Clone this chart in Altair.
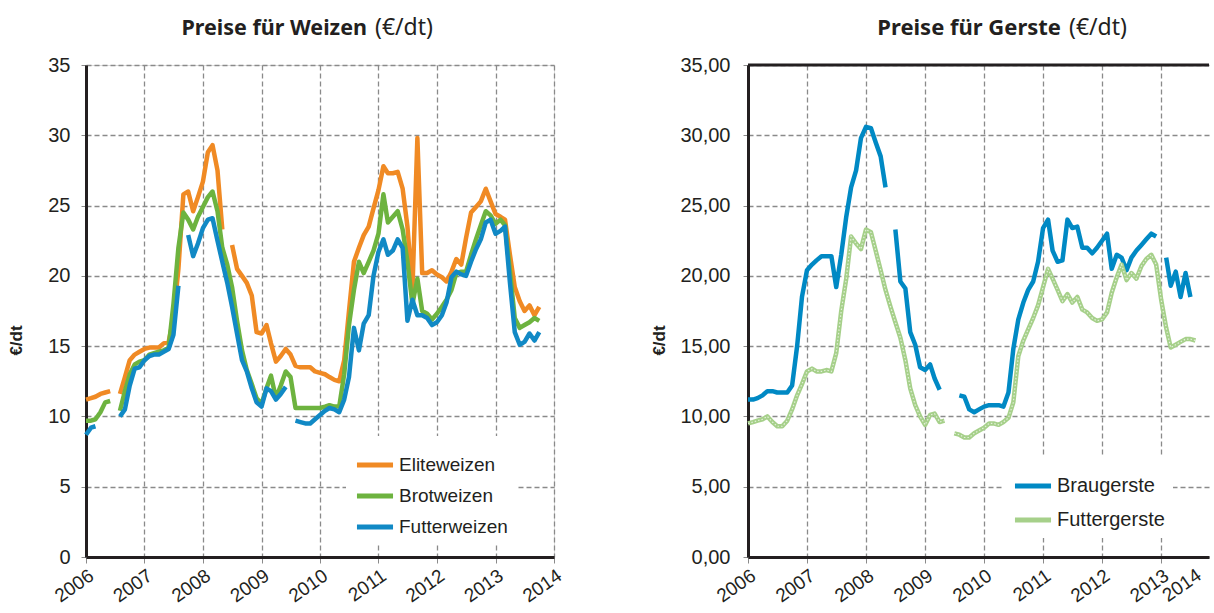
import altair as alt
import pandas as pd

N = None
months = pd.date_range("2006-01-01", periods=94, freq="MS")

wheat_names = ["Eliteweizen", "Brotweizen", "Futterweizen"]
wheat_colors = ["#F08A24", "#6DB33F", "#1189C5"]
barley_names = ["Braugerste", "Futtergerste"]
barley_colors = ["#0089C4", "#A6D08A"]

eliteweizen = [
    11.2, 11.3, 11.4, 11.6, 11.7, 11.8, N, 11.6, 12.8, 14.0, 14.4, 14.6,
    14.8, 14.9, 14.9, 14.9, 15.2, 15.3, 17.0, 20.5, 25.8, 26.0, 24.6, 25.6,
    26.7, 28.8, 29.3, 27.5, 23.3, N, 22.2, 20.5, 20.0, 19.5, 18.6, 16.0,
    15.9, 16.5, 15.2, 13.9, 14.3, 14.8, 14.4, 13.6, 13.5, 13.5, 13.5, 13.2,
    13.1, 13.0, 12.8, 12.6, 12.5, 14.0, 17.5, 21.0, 22.0, 22.9, 23.5, 24.8,
    26.1, 27.8, 27.3, 27.3, 27.4, 26.2, 23.5, 19.0, 29.8, 20.2, 20.2, 20.4,
    20.1, 19.9, 19.6, 20.3, 21.2, 20.8, 22.7, 24.5, 24.9, 25.3, 26.2, 25.3,
    24.4, 24.2, 24.0, 21.5, 19.2, 18.2, 17.5, 17.9, 17.2, 17.8,
]
brotweizen = [
    9.7, 9.7, 9.8, 10.3, 11.0, 11.1, N, 10.4, 11.8, 13.0, 13.7, 13.9,
    14.0, 14.4, 14.5, 14.6, 14.7, 14.9, 18.0, 22.0, 24.5, 24.0, 23.3, 24.2,
    24.9, 25.6, 26.0, 24.6, 22.0, 20.8, 19.2, 16.8, 14.7, 13.3, 12.3, 11.3,
    10.9, 12.0, 12.9, 11.3, 12.2, 13.2, 12.8, 10.6, 10.6, 10.6, 10.6, 10.6,
    10.6, 10.7, 10.8, 10.7, 10.7, 13.0, 16.5, 19.0, 21.0, 20.2, 21.0, 21.8,
    23.0, 25.8, 23.8, 24.2, 24.6, 23.3, 21.0, 18.0, 19.8, 17.5, 17.3, 16.9,
    17.3, 17.8, 18.3, 19.0, 20.2, 20.3, 20.3, 21.5, 22.6, 23.6, 24.6, 24.3,
    23.7, 24.0, 23.6, 20.3, 17.0, 16.3, 16.5, 16.7, 17.0, 16.8,
]
futterweizen = [
    8.7, 9.2, 9.3, N, N, N, N, 10.0, 10.5, 12.2, 13.4, 13.5,
    14.0, 14.3, 14.4, 14.4, 14.6, 14.8, 15.8, 19.3, N, 22.9, 21.4, 22.3,
    23.4, 24.0, 24.1, 22.5, 21.0, 19.5, 17.8, 15.9, 14.0, 13.2, 12.0, 11.0,
    10.7, 12.0, 11.8, 11.2, 11.6, 12.1, N, 9.7, 9.6, 9.5, 9.5, 9.8,
    10.1, 10.4, 10.6, 10.5, 10.3, 11.2, 12.8, 16.3, 14.7, 16.6, 17.2, 20.0,
    21.7, 22.6, 21.5, 21.8, 22.6, 22.0, 16.8, 18.3, 17.2, 17.2, 17.0, 16.5,
    16.7, 17.2, 18.1, 19.9, 20.3, 20.1, 20.0, 21.0, 21.9, 22.6, 23.8, 24.0,
    23.0, 23.2, 23.5, 19.5, 16.0, 15.1, 15.3, 15.9, 15.4, 16.0,
]
braugerste = [
    11.2, 11.2, 11.3, 11.5, 11.8, 11.8, 11.7, 11.7, 11.7, 12.2, 15.0, 18.5,
    20.4, 20.8, 21.1, 21.4, 21.4, 21.4, 19.2, 21.5, 24.2, 26.3, 27.5, 29.8,
    30.6, 30.5, 29.5, 28.5, 26.3, N, 23.3, 19.6, 19.1, 16.0, 15.1, 13.5,
    13.3, 13.7, 12.7, 11.9, N, N, N, 11.5, 11.4, 10.5, 10.3, 10.5,
    10.7, 10.8, 10.8, 10.8, 10.7, 11.7, 14.8, 16.9, 18.1, 19.0, 19.6, 21.0,
    23.4, 24.0, 21.8, 21.0, 21.1, 24.0, 23.4, 23.5, 22.0, 22.0, 21.6, 22.0,
    22.5, 23.0, 20.5, 21.5, 21.3, 20.4, 21.3, 21.8, 22.2, 22.6, 23.0, 22.8,
    N, 21.3, 19.3, 20.3, 18.5, 20.2, 18.5,
]
futtergerste = [
    9.5, 9.6, 9.7, 9.8, 10.0, 9.6, 9.3, 9.3, 9.7, 10.5, 11.5, 12.3,
    13.2, 13.4, 13.2, 13.2, 13.3, 13.2, 14.5, 17.5, 19.8, 22.8, 22.3, 21.9,
    23.3, 23.1, 21.8, 20.4, 19.0, 17.8, 16.7, 15.6, 14.0, 12.0, 10.8, 10.0,
    9.4, 10.1, 10.2, 9.6, 9.7, N, 8.8, 8.7, 8.5, 8.5, 8.8, 9.0,
    9.2, 9.5, 9.5, 9.4, 9.6, 9.9, 11.0, 14.3, 15.4, 16.2, 17.0, 17.9,
    19.2, 20.5, 19.8, 19.0, 18.2, 18.7, 18.1, 18.5, 17.6, 17.4, 17.0, 16.8,
    16.9, 17.4, 18.8, 19.9, 20.8, 19.7, 20.2, 19.8, 20.7, 21.2, 21.5, 20.8,
    18.3, 16.3, 14.9, 15.1, 15.3, 15.5, 15.5, 15.4,
]


def long_df(names, series):
    rows = []
    for name, vals in zip(names, series):
        for d, v in zip(months, vals):
            rows.append({"date": d, "series": name, "value": v})
    return pd.DataFrame(rows)


wheat_df = long_df(wheat_names, [eliteweizen, brotweizen, futterweizen])
barley_df = long_df(barley_names, [braugerste, futtergerste])

FONT = "Liberation Sans"
TFONT = "Noto Sans"
DARK = "#231f20"
GRID = "#8a8a8a"
H = 492
WL = 468
WR = 461
XANGLE = 325


def x_enc(end, years):
    return alt.X(
        "date:T",
        scale=alt.Scale(domain=[alt.DateTime(year=2006, month=1, date=1), end]),
        axis=alt.Axis(
            values=[alt.DateTime(year=y, month=1, date=1) for y in years],
            format="%Y", title=None, labelAngle=XANGLE, labelAlign="right",
            labelBaseline="top", labelFont=FONT, labelFontSize=19, labelColor=DARK,
            labelPadding=3, tickSize=6, tickColor=GRID, domainColor=DARK,
            domainWidth=3, grid=True, gridColor=GRID, gridDash=[5, 3], gridWidth=1.3,
            labelOverlap=False,
        ),
    )


def y_enc(label_expr, tx, pad):
    return alt.Y(
        "value:Q",
        scale=alt.Scale(domain=[0, 35], nice=False),
        axis=alt.Axis(
            values=list(range(0, 36, 5)), labelExpr=label_expr, title="€/dt",
            titleFont=FONT, titleFontSize=17, titleFontWeight="bold", titleColor=DARK,
            titleX=tx, titleY=275, titleAngle=270, titleAlign="center",
            titleBaseline="middle", labelFont=FONT, labelFontSize=20,
            labelColor=DARK, labelPadding=pad, tickSize=5, tickColor=GRID,
            domainColor=DARK, domainWidth=3, grid=True, gridColor=GRID,
            gridDash=[5, 3], gridWidth=1.3,
        ),
    )


def legend(lx, ly, rowpad, fsize):
    return alt.Legend(
        title=None, orient="none", legendX=lx, legendY=ly, fillColor="white",
        padding=8, symbolType="stroke", symbolStrokeWidth=5, symbolSize=1300,
        labelFont=FONT, labelFontSize=fsize, labelColor=DARK, labelOffset=3,
        rowPadding=rowpad,
    )


def title_layers(bold, xj, bsize):
    t1 = alt.Chart(pd.DataFrame({"t": [bold]})).mark_text(
        font=TFONT, fontSize=bsize, fontWeight="bold", align="right",
        baseline="alphabetic", color=DARK,
    ).encode(text="t:N", x=alt.value(xj - 4), y=alt.value(-30))
    t2 = alt.Chart(pd.DataFrame({"t": ["(€/dt)"]})).mark_text(
        font=TFONT, fontSize=23, fontWeight="normal", align="left",
        baseline="alphabetic", color=DARK,
    ).encode(text="t:N", x=alt.value(xj + 4), y=alt.value(-30))
    return t1, t2


# Left panel: wheat
wl = alt.Chart(wheat_df).mark_line(
    strokeWidth=4.5, strokeJoin="round", invalid="break-paths-show-domains"
).encode(
    x=x_enc(alt.DateTime(year=2014, month=1, date=1), range(2006, 2015)),
    y=y_enc("datum.value", -70, 11),
    color=alt.Color("series:N", scale=alt.Scale(domain=wheat_names, range=wheat_colors),
                    legend=legend(260, 371, 0, 19)),
)
lt1, lt2 = title_layers("Preise für Weizen", 285, 21.5)
left = alt.layer(wl, lt1, lt2).properties(width=WL, height=H)

# Right panel: barley
br = alt.Chart(barley_df).mark_line(
    strokeWidth=4.5, strokeJoin="round", invalid="break-paths-show-domains"
).encode(
    x=x_enc(alt.DateTime(year=2013, month=10, date=24), range(2006, 2014)),
    y=y_enc("replace(format(datum.value, '.2f'), '.', ',')", -89, 13),
    color=alt.Color("series:N", scale=alt.Scale(domain=barley_names, range=barley_colors),
                    legend=legend(256, 392, 3, 20)),
)
texture = alt.Chart(barley_df).transform_filter(
    alt.datum.series == "Futtergerste"
).mark_line(
    color="white", strokeWidth=1.2, strokeDash=[1.5, 2], opacity=0.7,
    invalid="break-paths-show-domains",
).encode(x="date:T", y="value:Q")
top_rule = alt.Chart(pd.DataFrame({"a": [0]})).mark_rule(
    color=DARK, strokeWidth=3
).encode(x=alt.value(0), x2=alt.value(WR), y=alt.value(0))
lbl2014 = alt.Chart(pd.DataFrame({"t": ["2014"]})).mark_text(
    font=FONT, fontSize=19, color=DARK, align="right", baseline="top", angle=XANGLE
).encode(text="t:N", x=alt.value(WR - 15), y=alt.value(H + 9))
rt1, rt2 = title_layers("Preise für Gerste", 317, 22)
right = alt.layer(br, texture, top_rule, lbl2014, rt1, rt2).properties(
    width=WR, height=H, view=alt.ViewBackground(stroke="transparent")
)

chart = alt.hconcat(left, right, spacing=83).resolve_scale(
    color="independent"
).resolve_legend(color="independent").properties(
    padding={"left": 6, "top": 16, "right": 0, "bottom": 0}
).configure_view(stroke=DARK, strokeWidth=3).configure(background="white")

chart.save("out.html", embed_options={"renderer": "svg", "actions": False})
